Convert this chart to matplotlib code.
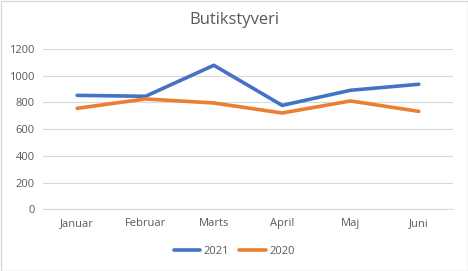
import matplotlib.pyplot as plt

maaneder = ["Januar", "Februar", "Marts", "April", "Maj", "Juni"]
v2021 = [853, 846, 1078, 778, 891, 936]
v2020 = [756, 826, 796, 721, 811, 733]
yticks = [0, 200, 400, 600, 800, 1000, 1200]

plt.rcParams['font.family'] = ['Open Sans', 'DejaVu Sans']

fig = plt.figure(figsize=(4.68, 2.71), dpi=100)
ax = fig.add_axes([43 / 468, 1 - 209.3 / 271, 410 / 468, 160.3 / 271])

x = list(range(len(maaneder)))
ax.plot(x, v2021, color="#4472C4", lw=2.6, label="2021", solid_capstyle="round")
ax.plot(x, v2020, color="#ED7D31", lw=2.6, label="2020", solid_capstyle="round")

ax.set_xlim(-0.5, len(maaneder) - 0.5)
ax.set_ylim(0, 1200)
ax.set_yticks(yticks)
ax.set_xticks(x)
ax.set_xticklabels(maaneder)
ax.grid(axis="y", color="#D9D9D9", lw=0.8)
ax.set_axisbelow(True)
for s in ["top", "right", "left"]:
    ax.spines[s].set_visible(False)
ax.spines["bottom"].set_color("#D9D9D9")
ax.tick_params(length=0, labelsize=8, colors="#595959", pad=6)

fig.text(0.5, 1 - 20 / 271, "Butikstyveri", ha="center", va="center",
         fontsize=12, color="#595959")

fig.legend(loc="center", bbox_to_anchor=(0.5, 1 - 251 / 271), ncol=2, frameon=False,
           fontsize=8, labelcolor="#595959", handlelength=2.4, handletextpad=0.3,
           columnspacing=0.9)

border = plt.Rectangle((0.5 / 468, 0.5 / 271), 1 - 1 / 468, 1 - 1 / 271,
                       transform=fig.transFigure, fill=False, ec="#D9D9D9", lw=1)
fig.patches.append(border)

fig.savefig("out.png", dpi=100, facecolor="white")
